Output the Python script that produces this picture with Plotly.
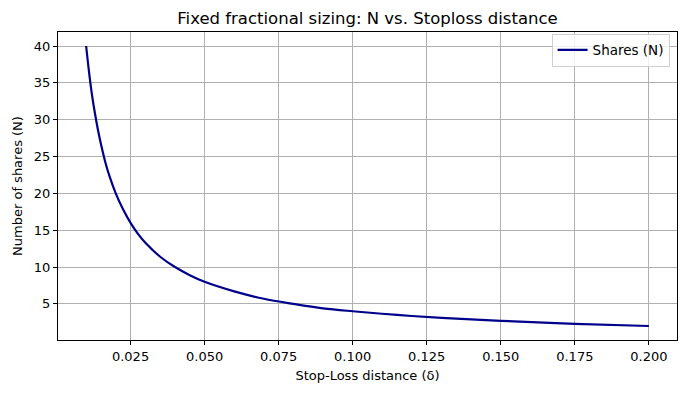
import plotly.graph_objects as go

# Values
stop_loss = [0.010, 0.011, 0.012, 0.013, 0.014, 0.015, 0.0165, 0.018, 0.020, 0.0225,
             0.025, 0.0275, 0.030, 0.035, 0.040, 0.045, 0.050, 0.060, 0.070, 0.080,
             0.090, 0.100, 0.115, 0.130, 0.150, 0.175, 0.200]
shares = [40.0, 36.4, 33.3, 30.8, 28.6, 26.7, 24.2, 22.2, 20.0, 17.8,
          16.0, 14.5, 13.3, 11.4, 10.0, 8.9, 8.0, 6.7, 5.7, 5.0,
          4.4, 4.0, 3.5, 3.1, 2.7, 2.3, 2.0]

x_ticks = [0.025, 0.050, 0.075, 0.100, 0.125, 0.150, 0.175, 0.200]
x_tick_labels = ["0.025", "0.050", "0.075", "0.100", "0.125", "0.150", "0.175", "0.200"]
y_ticks = [5, 10, 15, 20, 25, 30, 35, 40]

fig = go.Figure()
fig.add_trace(go.Scatter(
    x=stop_loss, y=shares, mode="lines", name="Shares (N)",
    line=dict(color="#00008b", width=2.2, shape="spline", smoothing=1.0),
))

axis_common = dict(
    showline=True, linecolor="black", linewidth=1, mirror=True,
    ticks="outside", ticklen=4, tickwidth=1, tickcolor="black",
    showgrid=True, gridcolor="#b0b0b0", gridwidth=1, zeroline=False,
    tickfont=dict(size=13, color="black"), automargin=False,
)

fig.update_layout(
    width=686, height=393,
    margin=dict(l=58, r=9, t=32, b=53),
    paper_bgcolor="white", plot_bgcolor="white",
    font=dict(family="DejaVu Sans", color="black", size=13),
    title=dict(text="Fixed fractional sizing: N vs. Stoploss distance",
               x=0.5, xanchor="center", xref="paper", y=1-18/393, yanchor="middle",
               font=dict(size=16.5), automargin=False),
    xaxis=dict(range=[0.0005, 0.2095], tickvals=x_ticks, ticktext=x_tick_labels,
               title=dict(text="Stop-Loss distance (δ)", font=dict(size=13), standoff=8),
               **axis_common),
    yaxis=dict(range=[0.1, 41.9], tickvals=y_ticks,
               title=dict(text="Number of shares (N)", font=dict(size=13), standoff=8),
               **axis_common),
    legend=dict(x=0.988, y=0.995, xanchor="right", yanchor="top",
                bgcolor="rgba(255,255,255,0.8)", bordercolor="#d0d0d0", borderwidth=1,
                font=dict(size=13.5)),
    showlegend=True,
)

fig.write_html("out.html", config={"displayModeBar": False},
               post_script="document.body.style.margin='0';document.body.style.padding='0';")
